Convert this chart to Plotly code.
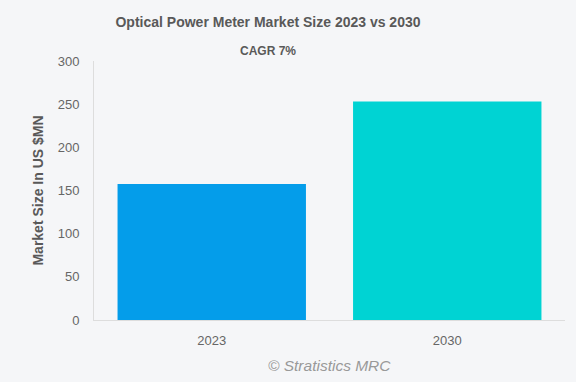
import plotly.graph_objects as go

years = ["2023", "2030"]
values = [157.5, 253]
colors = ["#049DEA", "#00D3D3"]
title_text = "Optical Power Meter Market Size 2023 vs 2030"
subtitle_text = "CAGR 7%"
y_title = "Market Size In US $MN"
watermark = "© Stratistics MRC"

fig = go.Figure()
fig.add_trace(go.Bar(x=years, y=values, marker=dict(color=colors, line=dict(width=0)), width=0.8))

font = "Liberation Sans, Arial, sans-serif"
fig.update_layout(
    width=576, height=382,
    margin=dict(l=94, r=11, t=61, b=62),
    paper_bgcolor="#F5F6F8", plot_bgcolor="#F5F6F8",
    showlegend=False,
    font=dict(family=font, color="#666666"),
    title=dict(text="<b>" + title_text + "</b>", x=268/576, xanchor="center", y=1-22/382, yanchor="middle",
               font=dict(size=14, color="#595959", family=font)),
    xaxis=dict(showgrid=False, showline=True, linecolor="#DDDDDD", linewidth=1,
               tickfont=dict(size=13, color="#666666"), ticks="outside", ticklen=8,
               tickcolor="rgba(0,0,0,0)"),
    yaxis=dict(range=[0, 300], dtick=50, showgrid=False, showline=True, linecolor="#DDDDDD", linewidth=1,
               zeroline=False, tickfont=dict(size=13, color="#666666"), ticks="outside", ticklen=11,
               tickcolor="rgba(0,0,0,0)",
               title=dict(text="<b>" + y_title + "</b>", font=dict(size=14, color="#595959"), standoff=10)),
    bargap=0.2,
)
fig.add_annotation(text="<b>" + subtitle_text + "</b>", xref="paper", yref="paper",
                   x=(268-94)/471, y=1+(61-51)/259, xanchor="center", yanchor="middle", showarrow=False,
                   font=dict(size=12, color="#595959", family=font))
fig.add_annotation(text="<i>" + watermark + "</i>", xref="paper", yref="paper",
                   x=0.5, y=-(365-320)/259, xanchor="center", yanchor="middle", showarrow=False,
                   font=dict(size=15.5, color="#999999", family=font))
fig.write_html("out.html", config={"displayModeBar": False},
               post_script="document.body.style.margin='0';document.body.style.padding='0';")
